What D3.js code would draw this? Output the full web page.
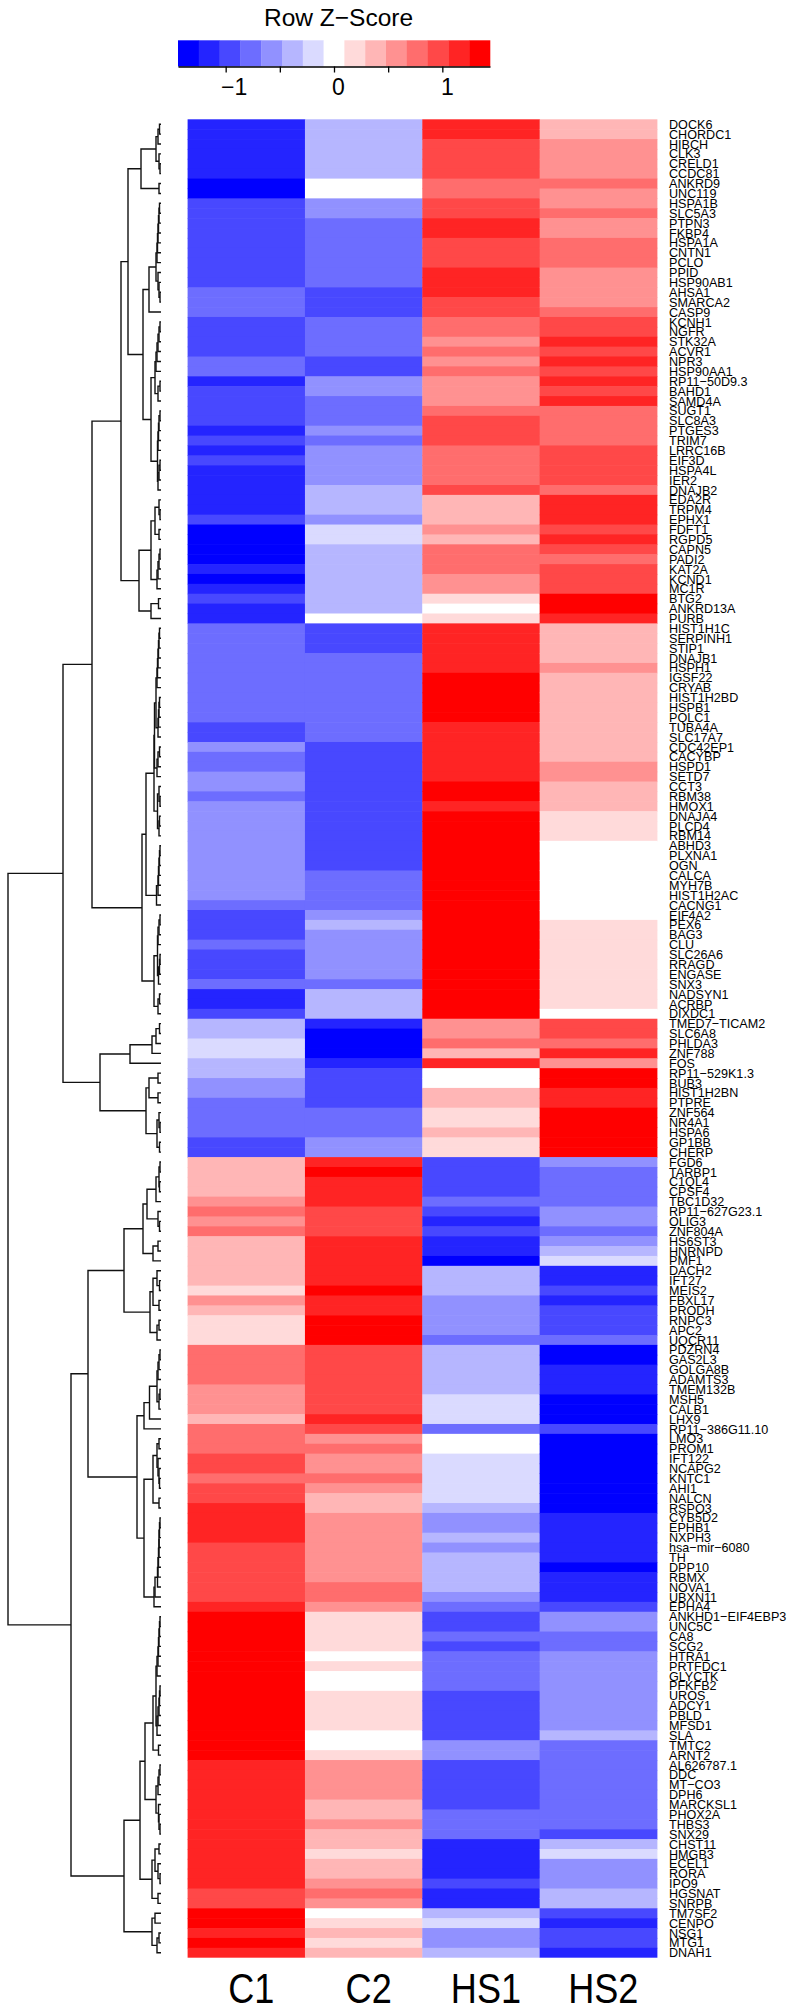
<!DOCTYPE html>
<html>
<head>
<meta charset="utf-8">
<style>
html,body{margin:0;padding:0;background:#fff}
svg{display:block}
text{font-family:"Liberation Sans",Arial,sans-serif;fill:#000}
</style>
<script src="https://cdn.jsdelivr.net/npm/d3@7/dist/d3.min.js"></script>
</head>
<body>
<script>
const samples = ["C1","C2","HS1","HS2"];
const genes = ["DOCK6","CHORDC1","HIBCH","CLK3","CRELD1","CCDC81","ANKRD9","UNC119","HSPA1B","SLC5A3","PTPN3","FKBP4","HSPA1A","CNTN1","PCLO","PPID","HSP90AB1","AHSA1","SMARCA2","CASP9","KCNH1","NGFR","STK32A","ACVR1","NPR3","HSP90AA1",
"RP11−50D9.3","BAHD1","SAMD4A","SUGT1","SLC8A3","PTGES3","TRIM7","LRRC16B","EIF3D","HSPA4L","IER2","DNAJB2","EDA2R","TRPM4","EPHX1","FDFT1","RGPD5","CAPN5","PADI2","KAT2A","KCND1","MC1R","BTG2","ANKRD13A","PURB",
"HIST1H1C","SERPINH1","STIP1","DNAJB1","HSPH1","IGSF22","CRYAB","HIST1H2BD","HSPB1","PQLC1","TUBA4A","SLC17A7","CDC42EP1","CACYBP","HSPD1","SETD7","CCT3","RBM38","HMOX1","DNAJA4","PLCD4","RBM14","ABHD3","PLXNA1","OGN","CALCA","MYH7B",
"HIST1H2AC","CACNG1","EIF4A2","PEX6","BAG3","CLU","SLC26A6","RRAGD","ENGASE","SNX3","NADSYN1","ACRBP","DIXDC1","TMED7−TICAM2","SLC6A8","PHLDA3","ZNF788","FOS","RP11−529K1.3","BUB3","HIST1H2BN","PTPRE","ZNF564","NR4A1","HSPA6","GP1BB","CHERP",
"FGD6","TARBP1","C1QL4","CPSF4","TBC1D32","RP11−627G23.1","OLIG3","ZNF804A","HS6ST3","HNRNPD","PMF1","DACH2","IFT27","MEIS2","FBXL17","PRODH","RNPC3","APC2","UQCR11","PDZRN4","GAS2L3","GOLGA8B","ADAMTS3","TMEM132B","MSH5","CALB1","LHX9","RP11−386G11.10",
"LMO3","PROM1","IFT122","NCAPG2","KNTC1","AHI1","NALCN","RSPO3","CYB5D2","EPHB1","NXPH3","hsa−mir−6080","TH","DPP10","RBMX","NOVA1","UBXN11","EPHA4","ANKHD1−EIF4EBP3","UNC5C","CA8","SCG2","HTRA1","PRTFDC1","GLYCTK","PFKFB2","UROS","ADCY1","PBLD","MFSD1","SLA","TMTC2","ARNT2",
"AL626787.1","DDC","MT−CO3","DPH6","MARCKSL1","PHOX2A","THBS3","SNX29","CHST11","HMGB3","ECEL1","RORA","IPO9","HGSNAT","SNRPB","TM7SF2","CENPO","NSG1","MTG1","DNAH1"];

// Row z-scores
const zC1 = [-1.2,-1.2,-1.2,-1.2,-1.2,-1.2,-1.4,-1.4,
-1,-1,-1,-1,-1,-1,-1,-1,-1,-.8,-.8,-.8,
-1,-1,-1,-1,-.8,-.8,
-1.2,-1,-1,-1,-1,-1.2,-1,-1.2,-1,-1.2,-1.2,-1.2,
-1.2,-1.2,-1,-1.4,-1.4,-1.4,-1.4,-1.2,-1.4,-1.2,-1,-1.2,-1.2,
-.8,-.8,-.8,-.8,-.8,-.8,-.8,-.8,-.8,-.8,-1,-1,
-.6,-.8,-.8,-.6,-.6,-.8,-.6,-.6,-.6,-.6,
-.6,-.6,-.6,-.6,-.6,-.6,-.8,-1,
-1,-1,-.8,-1,-1,-1,-.8,-1.2,-1.2,-1,
-.4,-.4,-.2,-.2,-.4,-.4,-.6,-.6,-.8,-.8,-.8,-.8,-1,-1,
.4,.4,.4,.4,.6,.8,.6,.8,.4,.4,.4,.4,.4,.2,.6,.4,.2,.2,.2,
.8,.8,.8,.8,.6,.6,.6,.4,.8,
.8,.8,1,1,.8,1,1,1.2,1.2,1.2,1.2,1,1,1,1,1,1,1.2,
1.4,1.4,1.4,1.4,1.4,1.4,1.4,1.4,1.4,1.4,1.4,1.4,1.4,1.4,1.4,
1.2,1.2,1.2,1.2,1.2,1.2,1.2,1.2,1.2,1.2,1.2,1.2,1.2,1,1,
1.4,1.4,1.2,1.4,1.2];
const zC2 = [-.4,-.4,-.4,-.4,-.4,-.4,0,0,
-.6,-.6,-.8,-.8,-.8,-.8,-.8,-.8,-.8,-1,-1,-1,
-.8,-.8,-.8,-.8,-1,-1,
-.6,-.6,-.8,-.8,-.8,-.6,-.8,-.6,-.6,-.6,-.6,-.4,
-.4,-.4,-.6,-.2,-.2,-.4,-.4,-.4,-.4,-.4,-.4,-.4,0,
-1,-1,-1,-.8,-.8,-.8,-.8,-.8,-.8,-.8,-.8,-.8,
-1,-1,-1,-1,-1,-1,-1,-1,-1,-1,
-1,-1,-1,-.8,-.8,-.8,-.8,-.6,
-.4,-.6,-.6,-.6,-.6,-.6,-.8,-.4,-.4,-.4,
-1.2,-1.4,-1.4,-1.4,-1.2,-1,-1,-1,-1,-.8,-.8,-.8,-.6,-.6,
1.2,1.4,1.2,1.2,1.2,1,1,1,1.2,1.2,1.2,1.2,1.2,1.4,1.2,1.2,1.4,1.4,1.4,
1,1,1,1,1,1,1,1.2,1,
.6,.8,.6,.6,.8,.6,.4,.4,.6,.6,.6,.6,.6,.6,.6,.8,.8,.6,
.2,.2,.2,.2,0,.2,0,0,.2,.2,.2,.2,0,0,.2,
.6,.6,.6,.6,.4,.4,.6,.4,.4,.2,.4,.4,.6,.8,.6,
0,.2,.4,.2,.4];
const zHS1 = [1.2,1.2,1,1,1,1,.8,.8,
1,1,1.2,1.2,1,1,1,1.2,1.2,1.2,1,1,
.8,.8,.6,.8,.6,.8,
.6,.6,.6,.8,1,1,1,.8,.8,.8,.8,1,
.4,.4,.4,.6,.4,.8,.8,.8,.6,.6,.2,0,.2,
1.2,1.2,1.2,1.2,1.2,1.4,1.4,1.4,1.4,1.4,1.2,1.2,
1.2,1.2,1.2,1.2,1.4,1.4,1.2,1.4,1.4,1.4,
1.4,1.4,1.4,1.4,1.4,1.4,1.4,1.4,
1.4,1.4,1.4,1.4,1.4,1.4,1.4,1.4,1.4,1.4,
.6,.6,.8,.4,1.2,0,0,.4,.4,.2,.2,.4,.2,.2,
-1,-1,-1,-1,-.8,-1,-1.2,-1,-1.2,-1.2,-1.4,-.4,-.4,-.4,-.6,-.6,-.6,-.6,-.8,
-.4,-.4,-.4,-.4,-.4,-.2,-.2,-.2,-.8,
0,0,-.2,-.2,-.2,-.2,-.2,-.4,-.6,-.6,-.4,-.6,-.4,-.4,-.4,-.4,-.6,-.8,
-1,-1,-.8,-1,-.8,-.8,-.8,-.8,-1,-1,-1,-1,-1,-.6,-.6,
-1,-1,-1,-1,-1,-.8,-.8,-.8,-1.2,-1.2,-1.2,-1.2,-1,-1.2,-1.2,
-.4,-.2,-.6,-.6,-.4];
const zHS2 = [.4,.4,.6,.6,.6,.6,.8,.6,
.6,.8,.6,.6,.8,.8,.8,.6,.6,.6,.6,.8,
1,1,1.2,1,1.2,1,
1.2,1,1.2,.8,.8,.8,.8,1,1,1,1,.8,
1.2,1.2,1.2,1,1.2,1,.8,1,1,1,1.4,1.4,1.2,
.4,.4,.4,.4,.6,.4,.4,.4,.4,.4,.4,.4,
.4,.4,.6,.6,.4,.4,.4,.2,.2,.2,
0,0,0,0,0,0,0,0,
.2,.2,.2,.2,.2,.2,.2,.2,.2,0,
1,1,.8,1.2,.6,1.4,1.4,1.2,1.2,1.4,1.4,1.4,1.4,1.4,
-.6,-.8,-.8,-.8,-.8,-.6,-.6,-.8,-.6,-.4,-.2,-1.2,-1.2,-1,-1.2,-1,-1,-1,-.8,
-1.4,-1.4,-1.2,-1.2,-1.2,-1.4,-1.4,-1.4,-1,
-1.4,-1.4,-1.4,-1.4,-1.4,-1.4,-1.4,-1.4,-1.2,-1.2,-1.2,-1.2,-1.2,-1.4,-1.2,-1.2,-1.2,-1,
-.6,-.6,-.8,-.8,-.6,-.6,-.6,-.6,-.6,-.6,-.6,-.6,-.4,-.8,-.8,
-.8,-.8,-.8,-.8,-.8,-.8,-.8,-1,-.4,-.2,-.6,-.6,-.6,-.4,-.4,
-1,-1.2,-1,-1,-1.2];
const zSeries = [zC1, zC2, zHS1, zHS2];

const keyColors = ["#0000ff","#2424ff","#4848ff","#6d6dff","#9191ff","#b6b6ff","#dadaff","#ffffff","#ffdada","#ffb6b6","#ff9191","#ff6d6d","#ff4848","#ff2424","#ff0000"];
const keyDomain = [-1.44, 1.44];
const keyTicks = [-1,-.5,0,.5,1];
const keyTickText = {"-1":"−1","0":"0","1":"1"};

// Row dendrogram: node = [merge height, child, child]; 0 = a gene leaf, in row order.
const N = (h,a,b) => [h,a,b];
const p = h => [h,0,0];
const up = (...hs) => hs.reduceRight((acc,h) => [h,0,acc], 0);   // ladder opening at the top
const dn = (...hs) => hs.reduceRight((acc,h) => [h,acc,0], 0);   // ladder opening at the bottom

const tree1to8   = N(20, N(5, N(3,p(1.5),0), up(2,1)), p(2));
const tree9to20  = N(12, N(5, dn(4,3.5,3,2.5,2,1.5), up(3,2,1)), 0);
const tree21to38 = N(10, N(6, dn(5,4,3,2,1), dn(3,1)), N(3.5, dn(3,2.5,2,1), dn(3,2,1)));
const tree39to51 = N(22, N(10, N(6, up(2,1), p(2)), dn(4,3,2,1)), N(10, p(2.5), 0));
const treeTop    = N(40, N(33, tree1to8, N(18, tree9to20, tree21to38)), tree39to51);
const tree52to80 = N(15, N(7, N(6.5, N(5, dn(4,3.5,3,2.5,2,1.5), dn(3,2.5,2,1.5)), dn(4,3,1.5)),
                             N(3.5, up(2,1), dn(2,1.5))),
                         N(4.5, dn(3,2.5,2,1.5,1), 0));
const tree81to91 = N(7, N(3.5, dn(3,2,1), dn(2.5,1.5,1)), dn(3,1.5));
const tree92to105 = N(61, N(31, N(9, N(5,p(1.5),0), 0), 0),
                          N(15, N(12, p(3), p(3)), N(4, up(2,1), p(1.5))));
const upperBranch = N(98, N(69, treeTop, N(19, tree52to80, tree81to91)), tree92to105);
const tree106to124 = N(37, N(18, N(14, N(5, N(2,p(1),p(1.5)), 0), up(3,1.5)), N(8, p(3), 0)),
                           N(11, N(8, up(4,1.5), p(2)), dn(4,2)));
const tree125to151 = N(24, N(17, N(11.5, N(4, dn(3,2,1), dn(2,1)), 0), 0),
                           N(17, N(8, N(4, p(2), up(3,2,1.5)), p(2)),
                                 N(7, N(6, dn(3.5,3,2.5,2,2,1.5,1), 0), 0)));
const tree152to181 = N(21, N(16, N(8, N(5, dn(4,3,2.5,2,1.5,1), dn(4,3,2,1.5,1)), p(2.5)),
                                 N(5, dn(3,2,1), up(2.5,2,1))),
                           N(9, N(6, p(2), up(3,1)), p(3)));
const tree182to186 = N(9, p(6), dn(4,2));
const lowerBranch = N(90, N(73, tree106to124, tree125to151), N(37, tree152to181, tree182to186));
const rowTree = N(153, upperBranch, lowerBranch);

// ---- layout constants
const W = 792, H = 2011;
const svg = d3.select("body").append("svg").attr("width",W).attr("height",H);

const x = d3.scaleBand().domain(samples).range([187.6,657]);
const y = d3.scaleBand().domain(d3.range(genes.length)).range([119.3,1957.7]);
const color = d3.scaleQuantize().domain(keyDomain).range(keyColors);
const hx = d3.scaleLinear().domain([0,153]).range([161,8]);

// ---- heatmap (rows overlap slightly so only faint seams remain)
const cells = samples.flatMap((s,c) => zSeries[c].map((z,r) => ({s,r,z})));
svg.append("g").selectAll("rect").data(cells).join("rect")
  .attr("x",d=>x(d.s)).attr("y",d=>y(d.r))
  .attr("width",x.bandwidth()+.4)
  .attr("height",d=>y.bandwidth()+(d.r<genes.length-1?.6:0))
  .attr("fill",d=>color(d.z));

// ---- gene labels
svg.append("g").selectAll("text").data(genes).join("text")
  .attr("transform",(d,i)=>`translate(669,${y(i)+y.bandwidth()/2+4.6}) scale(.97,1)`)
  .attr("font-size",13)
  .text(d=>d);

// ---- sample labels
svg.append("g").selectAll("text").data(samples).join("text")
  .attr("transform",d=>`translate(${x(d)+x.bandwidth()/2+5},2003) scale(.84,1)`)
  .attr("text-anchor","middle").attr("font-size",43)
  .text(d=>d);

// ---- dendrogram
const root = d3.hierarchy(rowTree, d => Array.isArray(d) ? d.slice(1) : null);
let leafIndex = 0;
root.eachAfter(n => {
  if (!n.children) { n.py = y(leafIndex)+y.bandwidth()/2; n.hv = 0; leafIndex++; }
  else { n.hv = n.data[0]; n.py = d3.mean(n.children, c=>c.py); }
});
svg.append("g").selectAll("path").data(root.descendants().filter(n=>n.children)).join("path")
  .attr("fill","none").attr("stroke","#111").attr("stroke-width",1.4)
  .attr("d",n=>{
    const [a,b]=n.children;
    const pth=d3.path();
    pth.moveTo(hx(a.hv),a.py);
    pth.lineTo(hx(n.hv),a.py);
    pth.lineTo(hx(n.hv),b.py);
    pth.lineTo(hx(b.hv),b.py);
    return pth.toString();
  });

// ---- colour key
const key = d3.scaleLinear().domain(keyDomain).range([334-156,334+156]);
const step = (keyDomain[1]-keyDomain[0])/keyColors.length;
svg.append("g").selectAll("rect").data(keyColors).join("rect")
  .attr("x",(d,i)=>key(keyDomain[0]+i*step)).attr("y",40.3)
  .attr("width",key(keyDomain[0]+step)-key(keyDomain[0])+.3).attr("height",26.2)
  .attr("fill",d=>d);
const keyAxis = svg.append("g").attr("transform","translate(0,66.5)")
  .call(d3.axisBottom(key).tickValues(keyTicks).tickSize(6).tickSizeOuter(0)
        .tickFormat(d=>keyTickText[d]||""));
keyAxis.selectAll("path,line").attr("stroke","#000").attr("stroke-width",1.3);
keyAxis.selectAll("text").attr("font-size",23).attr("font-family","Liberation Sans")
  .attr("fill","#000").attr("y",28.5).attr("dy",0)
  .attr("dx",d=>d===-1?8:(d===0?4:4.5));
svg.append("text").attr("x",338.5).attr("y",25.5).attr("text-anchor","middle")
  .attr("font-size",24.5).text("Row Z−Score");
</script>
</body>
</html>
